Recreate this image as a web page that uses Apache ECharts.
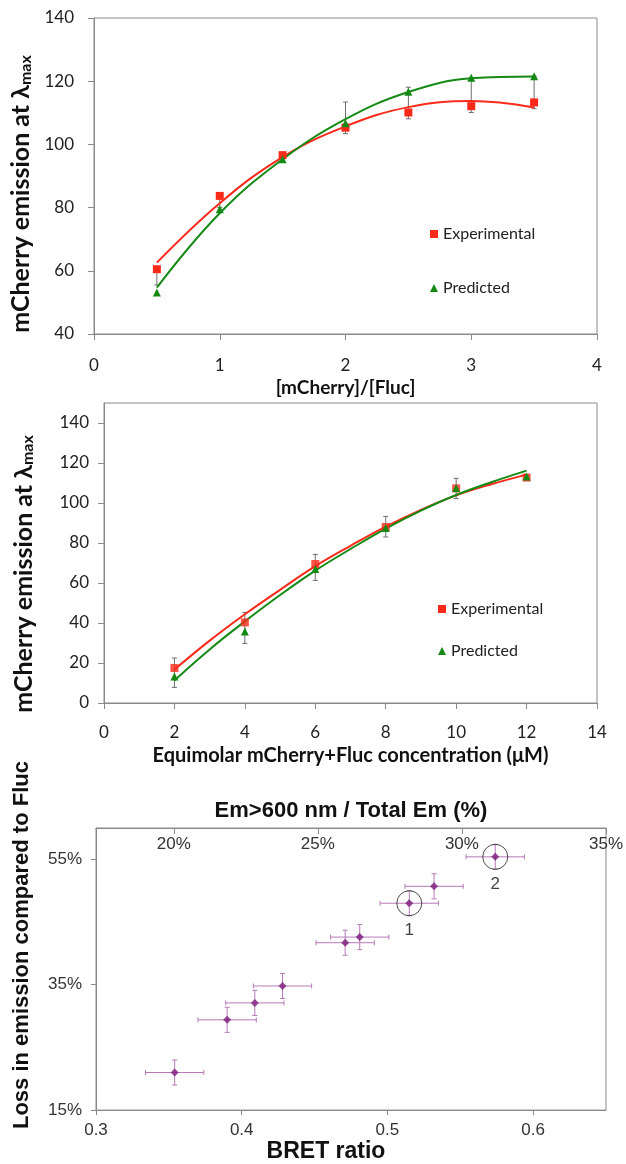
<!DOCTYPE html>
<html>
<head>
<meta charset="utf-8">
<script src="https://cdn.jsdelivr.net/npm/echarts@6/dist/echarts.min.js"></script>
<style>
  html, body { margin: 0; padding: 0; background: #fff; }
  #chart { width: 626px; height: 1164px; }
</style>
</head>
<body>
<div id="chart"></div>
<script>
// top panel: emission vs [mCherry]/[Fluc]
const topX = [0.5, 1, 1.5, 2, 2.5, 3, 3.5]
const topExp = [60.5, 83.7, 96.6, 105.3, 110.1, 112.1, 113.3]
const topPred = [53.1, 79.5, 95.3, 106.7, 116.7, 121.1, 121.6]
const topErrLow = [55.5, 80, 95.5, 103.4, 108.1, 110.1, 111.3]
const topErrHigh = [60.5, 83.7, 97.5, 113.4, 118.1, 121, 121.6]
const topFitX = [0.5, 1, 1.5, 2, 2.5, 3, 3.5]
const topFitExp = [62.6, 81.4, 96, 105.7, 111.8, 113.7, 111.7]
const topFitPred = [54.7, 78.2, 95.3, 108, 116.6, 120.9, 121.5]
const topXTicks = [0, 1, 2, 3, 4]
const topYTicks = [40, 60, 80, 100, 120, 140]

// middle panel: emission vs equimolar concentration
const midX = [2, 4, 6, 8, 10, 12]
const midExp = [17.5, 40.3, 69.5, 88, 107.3, 112.7]
const midPred = [13.3, 35.7, 67, 87.5, 107.5, 113.3]
const midErrLow = [7.8, 29.8, 61.3, 83, 102.2, 111.5]
const midErrHigh = [22.5, 45.3, 74.3, 93.3, 112.3, 114]
const midFitX = [2, 3, 4, 5, 6, 7, 8, 9, 10, 11, 12]
const midFitExp = [16.7, 31.2, 44.4, 56.6, 68.4, 78.6, 88.2, 96.6, 103.8, 109.4, 114.2]
const midFitPred = [11.3, 26.8, 40.8, 54, 66.2, 77, 87.2, 96.2, 104, 110.4, 116.2]
const midXTicks = [0, 2, 4, 6, 8, 10, 12, 14]
const midYTicks = [0, 20, 40, 60, 80, 100, 120, 140]

// bottom panel: loss vs BRET ratio
const bretX = [0.354, 0.390, 0.409, 0.428, 0.471, 0.481, 0.515, 0.532, 0.574]
const lossPct = [21.0, 29.4, 32.1, 34.8, 41.7, 42.6, 48.0, 50.7, 55.4]
const bretErr = [0.02, 0.02, 0.02, 0.02, 0.02, 0.02, 0.02, 0.02, 0.02]
const lossErr = [2.0, 2.0, 2.0, 2.0, 2.0, 2.0, 2.0, 2.0, 2.0]
const markedIdx = [6, 8]
const markedLabels = ['1', '2']
const bretTicks = [0.3, 0.4, 0.5, 0.6]
const lossTicks = [15, 35, 55]
const emTicks = [20, 25, 30, 35]

const RED = '#fa2a1a'
const GREEN = '#148a14'
const GREY = '#8a8a8a'
const PURPLE = '#7a1a7a'
const XL = 'Lato'
const AR = 'Liberation Sans'

const zip = (xs, ys) => xs.map((x, i) => [x, ys[i]])

function vErr (color) {
  return function (params, api) {
    const x = api.value(0)
    const a = api.coord([x, api.value(1)])
    const b = api.coord([x, api.value(2)])
    const st = () => ({ stroke: color, lineWidth: 1 })
    return {
      type: 'group',
      children: [
        { type: 'line', shape: { x1: a[0], y1: a[1], x2: b[0], y2: b[1] }, style: st() },
        { type: 'line', shape: { x1: a[0] - 2.5, y1: a[1], x2: a[0] + 2.5, y2: a[1] }, style: st() },
        { type: 'line', shape: { x1: b[0] - 2.5, y1: b[1], x2: b[0] + 2.5, y2: b[1] }, style: st() }
      ]
    }
  }
}

function xyErr (params, api) {
  const x = api.value(0), y = api.value(1), xe = api.value(2), ye = api.value(3)
  const l = api.coord([x - xe, y]), r = api.coord([x + xe, y])
  const t = api.coord([x, y + ye]), b = api.coord([x, y - ye])
  const st = () => ({ stroke: '#b779b7', lineWidth: 1 })
  const c = 2.5
  return {
    type: 'group',
    children: [
      { type: 'line', shape: { x1: l[0], y1: l[1], x2: r[0], y2: r[1] }, style: st() },
      { type: 'line', shape: { x1: t[0], y1: t[1], x2: b[0], y2: b[1] }, style: st() },
      { type: 'line', shape: { x1: l[0], y1: l[1] - c, x2: l[0], y2: l[1] + c }, style: st() },
      { type: 'line', shape: { x1: r[0], y1: r[1] - c, x2: r[0], y2: r[1] + c }, style: st() },
      { type: 'line', shape: { x1: t[0] - c, y1: t[1], x2: t[0] + c, y2: t[1] }, style: st() },
      { type: 'line', shape: { x1: b[0] - c, y1: b[1], x2: b[0] + c, y2: b[1] }, style: st() }
    ]
  }
}

const axisLineGrey = { show: true, lineStyle: { color: GREY, width: 1 } }
const subTitle = {
  a: { fontFamily: XL, fontWeight: 'bold', fontSize: 25, color: '#111' },
  b: { fontFamily: XL, fontWeight: 'bold', fontSize: 16, color: '#111', verticalAlign: 'bottom', lineHeight: 15 }
}

const chart = echarts.init(document.getElementById('chart'), null, { renderer: 'canvas' })

chart.setOption({
  animation: false,
  backgroundColor: '#fff',
  grid: [
    { left: 94, top: 18, width: 503, height: 316, show: true, borderColor: GREY, borderWidth: 1 },
    { left: 104, top: 403, width: 493, height: 300, show: true, borderColor: GREY, borderWidth: 1 },
    { left: 96, top: 828, width: 511, height: 286, show: true, borderColor: GREY, borderWidth: 1 }
  ],
  legend: [
    {
      data: ['Experimental', 'Predicted'], orient: 'vertical', left: 425, top: 221,
      itemWidth: 8, itemHeight: 8, itemGap: 38,
      textStyle: { fontFamily: XL, fontSize: 16, color: '#222' }
    },
    {
      data: ['Experimental', 'Predicted'], orient: 'vertical', left: 433, top: 596,
      itemWidth: 8, itemHeight: 8, itemGap: 26,
      textStyle: { fontFamily: XL, fontSize: 16, color: '#222' }
    }
  ],
  xAxis: [
    {
      gridIndex: 0, type: 'value', min: 0, max: 4,
      axisLine: axisLineGrey, splitLine: { show: false },
      axisTick: { show: true, length: 6, customValues: topXTicks, lineStyle: { color: GREY } },
      axisLabel: { customValues: topXTicks, margin: 23, fontFamily: XL, fontSize: 17, color: '#222' },
      name: '[mCherry]/[Fluc]', nameLocation: 'middle', nameGap: 44,
      nameTextStyle: { fontFamily: XL, fontWeight: 'bold', fontSize: 19, color: '#111' }
    },
    {
      gridIndex: 1, type: 'value', min: 0, max: 14,
      axisLine: axisLineGrey, splitLine: { show: false },
      axisTick: { show: true, length: 6, customValues: midXTicks, lineStyle: { color: GREY } },
      axisLabel: { customValues: midXTicks, margin: 21, fontFamily: XL, fontSize: 17, color: '#222' },
      name: 'Equimolar mCherry+Fluc concentration (μM)', nameLocation: 'middle', nameGap: 43,
      nameTextStyle: { fontFamily: XL, fontWeight: 'bold', fontSize: 20, color: '#111' }
    },
    {
      gridIndex: 2, type: 'value', min: 0.3, max: 0.65, position: 'bottom',
      axisLine: axisLineGrey, splitLine: { show: false },
      axisTick: { show: true, length: 5, customValues: bretTicks, lineStyle: { color: GREY } },
      axisLabel: { customValues: bretTicks, formatter: v => v.toFixed(1), margin: 12, fontFamily: AR, fontSize: 17, color: '#333' },
      name: 'BRET ratio', nameLocation: 'middle', nameGap: 29,
      nameTextStyle: { fontFamily: AR, fontWeight: 'bold', fontSize: 23, color: '#111', padding: [0, 50, 0, 0] }
    },
    {
      gridIndex: 2, type: 'value', min: 17.3, max: 35, position: 'top',
      axisLine: axisLineGrey, splitLine: { show: false },
      axisTick: { show: true, inside: true, length: 6, customValues: emTicks, lineStyle: { color: GREY } },
      axisLabel: { inside: true, customValues: emTicks, formatter: '{value}%', margin: 8, fontFamily: AR, fontSize: 17, color: '#333' },
      name: 'Em>600 nm / Total Em (%)', nameLocation: 'middle', nameGap: 6,
      nameTextStyle: { fontFamily: AR, fontWeight: 'bold', fontSize: 22, color: '#111' }
    }
  ],
  yAxis: [
    {
      gridIndex: 0, type: 'value', min: 40, max: 140,
      axisLine: axisLineGrey, splitLine: { show: false },
      axisTick: { show: true, length: 6, customValues: topYTicks, lineStyle: { color: GREY } },
      axisLabel: { customValues: topYTicks, margin: 20, fontFamily: XL, fontSize: 17, color: '#222' },
      name: '{a|mCherry emission at λ}{b|max}', nameLocation: 'middle', nameGap: 58,
      nameTextStyle: { rich: subTitle, padding: [0, 36, 0, 0] }
    },
    {
      gridIndex: 1, type: 'value', min: 0, max: 150,
      axisLine: axisLineGrey, splitLine: { show: false },
      axisTick: { show: true, length: 6, customValues: midYTicks, lineStyle: { color: GREY } },
      axisLabel: { customValues: midYTicks, margin: 15, fontFamily: XL, fontSize: 17, color: '#222' },
      name: '{a|mCherry emission at λ}{b|max}', nameLocation: 'middle', nameGap: 68,
      nameTextStyle: { rich: subTitle, padding: [0, 42, 0, 0] }
    },
    {
      gridIndex: 2, type: 'value', min: 15, max: 60,
      axisLine: axisLineGrey, splitLine: { show: false },
      axisTick: { show: true, length: 5, customValues: lossTicks, lineStyle: { color: GREY } },
      axisLabel: { customValues: lossTicks, formatter: '{value}%', margin: 14, fontFamily: AR, fontSize: 17, color: '#333' },
      name: 'Loss in emission compared to Fluc', nameLocation: 'middle', nameGap: 63,
      nameTextStyle: { fontFamily: AR, fontWeight: 'bold', fontSize: 22, color: '#111', padding: [0, 0, 0, 48] }
    }
  ],
  series: [
    // top
    { type: 'custom', xAxisIndex: 0, yAxisIndex: 0, renderItem: vErr('#6e6e6e'), encode: { x: 0, y: [1, 2] },
      data: topX.map((x, i) => [x, topErrLow[i], topErrHigh[i]]), z: 1, silent: true },
    { type: 'line', name: 'Experimental fit', xAxisIndex: 0, yAxisIndex: 0, data: zip(topFitX, topFitExp),
      smooth: 0.4, showSymbol: false, lineStyle: { color: RED, width: 2 }, z: 2 },
    { type: 'line', name: 'Predicted fit', xAxisIndex: 0, yAxisIndex: 0, data: zip(topFitX, topFitPred),
      smooth: 0.4, showSymbol: false, lineStyle: { color: GREEN, width: 2 }, z: 2 },
    { type: 'scatter', name: 'Experimental', xAxisIndex: 0, yAxisIndex: 0, data: zip(topX, topExp),
      symbol: 'rect', symbolSize: 8, itemStyle: { color: RED, opacity: 1 }, z: 4 },
    { type: 'scatter', name: 'Predicted', xAxisIndex: 0, yAxisIndex: 0, data: zip(topX, topPred),
      symbol: 'triangle', symbolSize: 8, itemStyle: { color: GREEN, opacity: 1 }, z: 5 },
    // middle
    { type: 'custom', xAxisIndex: 1, yAxisIndex: 1, renderItem: vErr('#6e6e6e'), encode: { x: 0, y: [1, 2] },
      data: midX.map((x, i) => [x, midErrLow[i], midErrHigh[i]]), z: 1, silent: true },
    { type: 'line', name: 'Experimental fit', xAxisIndex: 1, yAxisIndex: 1, data: zip(midFitX, midFitExp),
      smooth: 0.4, showSymbol: false, lineStyle: { color: RED, width: 2 }, z: 2 },
    { type: 'line', name: 'Predicted fit', xAxisIndex: 1, yAxisIndex: 1, data: zip(midFitX, midFitPred),
      smooth: 0.4, showSymbol: false, lineStyle: { color: GREEN, width: 2 }, z: 2 },
    { type: 'scatter', name: 'Experimental', xAxisIndex: 1, yAxisIndex: 1, data: zip(midX, midExp),
      symbol: 'rect', symbolSize: 8, itemStyle: { color: RED, opacity: 0.8 }, z: 4 },
    { type: 'scatter', name: 'Predicted', xAxisIndex: 1, yAxisIndex: 1, data: zip(midX, midPred),
      symbol: 'triangle', symbolSize: 8, itemStyle: { color: GREEN, opacity: 1 }, z: 5 },
    // bottom
    { type: 'custom', xAxisIndex: 2, yAxisIndex: 2, renderItem: xyErr, encode: { x: 0, y: 1 },
      data: bretX.map((x, i) => [x, lossPct[i], bretErr[i], lossErr[i]]), z: 1, silent: true },
    { type: 'scatter', name: 'BRET', xAxisIndex: 2, yAxisIndex: 2, data: zip(bretX, lossPct),
      symbol: 'diamond', symbolSize: 8, itemStyle: { color: PURPLE }, z: 4 },
    { type: 'scatter', name: 'marked', xAxisIndex: 2, yAxisIndex: 2,
      data: markedIdx.map((k, i) => ({ value: [bretX[k], lossPct[k]], name: markedLabels[i] })),
      symbol: 'circle', symbolSize: 25,
      itemStyle: { color: 'rgba(0,0,0,0)', borderColor: '#222', borderWidth: 1 },
      label: { show: true, position: 'bottom', distance: 6, formatter: '{b}', fontFamily: AR, fontSize: 17, color: '#111' },
      z: 3, silent: true }
  ]
})
</script>
</body>
</html>
